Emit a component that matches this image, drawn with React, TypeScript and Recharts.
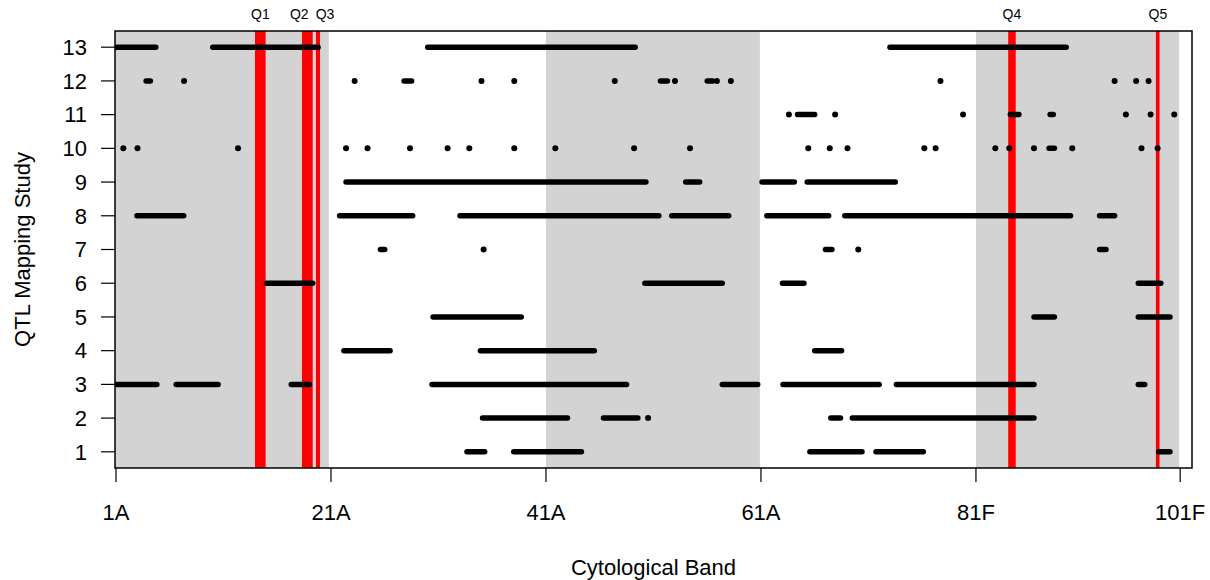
import React from "react";
import {
  ComposedChart,
  Line,
  Scatter,
  XAxis,
  YAxis,
  ReferenceArea,
  ReferenceLine,
} from "recharts";

// Intervals (start, end) along the cytological map for each QTL mapping study.
// A single-band hit has start === end and is drawn as a dot.
const study13 = [[1, 4.7], [10, 19.8], [30, 49.3], [73, 89.4]];
const study12 = [
  [3.8, 4.2], [7.33, 7.33], [23.2, 23.2], [27.8, 28.5], [35.0, 35.0],
  [38.05, 38.05], [47.4, 47.4], [51.65, 52.3], [53.0, 53.0], [56.0, 56.5],
  [56.9, 56.9], [58.2, 58.2], [77.7, 77.7], [93.9, 93.9], [95.9, 95.9],
  [97.06, 97.06],
];
const study11 = [
  [63.6, 63.6], [64.4, 66.0], [67.9, 67.9], [79.8, 79.8], [84.2, 85.0],
  [87.9, 88.2], [94.95, 94.95], [97.25, 97.25], [99.45, 99.45],
];
const study10 = [
  [1.68, 1.68], [3.0, 3.0], [12.35, 12.35], [22.4, 22.4], [24.4, 24.4],
  [28.35, 28.35], [31.85, 31.85], [33.87, 33.87], [38.05, 38.05],
  [41.87, 41.87], [49.2, 49.2], [54.4, 54.4], [65.4, 65.4], [67.4, 67.4],
  [69.05, 69.05], [76.2, 76.2], [77.25, 77.25], [82.8, 82.8], [84.1, 84.1],
  [86.4, 86.4], [87.8, 88.3], [89.96, 89.96], [96.4, 96.4], [97.9, 97.9],
];
const study9 = [[22.4, 50.3], [54.0, 55.3], [61.1, 64.1], [65.3, 73.5]];
const study8 = [
  [2.95, 7.3], [21.8, 28.6], [33.0, 51.5], [52.7, 58.0], [61.55, 67.3],
  [68.8, 89.8], [92.5, 93.9],
];
const study7 = [[25.6, 26.0], [35.2, 35.2], [67.0, 67.6], [70.05, 70.05], [92.5, 93.1]];
const study6 = [[15.0, 19.3], [50.2, 57.4], [63.0, 65.0], [96.1, 98.2]];
const study5 = [[30.5, 38.7], [86.4, 88.3], [96.1, 99.05]];
const study4 = [[22.2, 26.5], [34.9, 45.5], [66.0, 68.5]];
const study3 = [
  [1, 4.8], [6.6, 10.5], [17.3, 19.0], [30.4, 48.5], [57.4, 60.7],
  [63.05, 72.0], [73.6, 86.4], [96.1, 96.7],
];
const study2 = [[35.1, 43.0], [46.35, 49.55], [50.5, 50.5], [67.5, 68.4], [69.5, 86.4]];
const study1 = [[33.65, 35.3], [38.0, 44.3], [65.55, 70.4], [71.7, 76.1], [98.0, 99.05]];

const studies = [
  study1, study2, study3, study4, study5, study6, study7,
  study8, study9, study10, study11, study12, study13,
];

// Alternating shaded blocks of 20 bands
const shadedBands = [[0.907, 20.8], [41, 60.9], [81, 99.9]];

// QTL positions: band ranges and where their labels sit
const qtlNames = ["Q1", "Q2", "Q3", "Q4", "Q5"];
const qtlRanges = [[13.93, 14.92], [18.3, 19.3], [19.6, 19.98], [84.0, 84.7], [97.74, 98.08]];
const qtlLabelAt = [14.43, 18.05, 20.45, 84.35, 97.93];

const bandTicks = [1, 21, 41, 61, 81, 100];
const bandLabels = ["1A", "21A", "41A", "61A", "81F", "101F"];
const studyTicks = [1, 2, 3, 4, 5, 6, 7, 8, 9, 10, 11, 12, 13];

const X_MIN = 0.907;
const X_MAX = 101.1;
const Y_MIN = 0.52;
const Y_MAX = 13.48;

const FONT = "'Liberation Sans', Arial, Helvetica, sans-serif";
const AXIS_FONT = 22;

type Pt = { x: number; y: number | null };

function segmentData(rows: number[][], y: number): Pt[] {
  const out: Pt[] = [];
  rows
    .filter(([a, b]) => b > a)
    .forEach(([a, b]) => {
      out.push({ x: a, y }, { x: b, y }, { x: b, y: null });
    });
  return out;
}

function dotData(rows: number[][], y: number): Pt[] {
  return rows.filter(([a, b]) => a === b).map(([a]) => ({ x: a, y }));
}

const allDots = studies.flatMap((rows, i) => dotData(rows, i + 1));

const Dot = (p: any) => <circle cx={p.cx} cy={p.cy} r={3} fill="#000" />;

export default function App() {
  return (
    // pinned to the page corner, clear of the default body margin
    <div style={{ fontFamily: FONT, position: "absolute", top: 0, left: 0 }}>
      <ComposedChart
        width={1210}
        height={580}
        margin={{ top: 31, right: 18, left: 0, bottom: 52 }}
        style={{ fontFamily: FONT }}
      >
        <XAxis
          type="number"
          dataKey="x"
          domain={[X_MIN, X_MAX]}
          allowDataOverflow
          ticks={bandTicks}
          interval={0}
          tickFormatter={(v: number) => bandLabels[bandTicks.indexOf(v)] ?? ""}
          tickSize={14}
          tickMargin={22}
          height={60}
          axisLine={false}
          tickLine={{ stroke: "#000", strokeWidth: 1.2 }}
          tick={{ fill: "#000", fontSize: AXIS_FONT }}
          label={(props: any) => {
            const vb = props.viewBox;
            return (
              <text
                x={vb.x + vb.width / 2}
                y={vb.y + 99}
                textAnchor="middle"
                dominantBaseline="central"
                fontSize={AXIS_FONT}
                fill="#000"
              >
                Cytological Band
              </text>
            );
          }}
        />
        <YAxis
          type="number"
          domain={[Y_MIN, Y_MAX]}
          allowDataOverflow
          ticks={studyTicks}
          interval={0}
          width={115}
          tickSize={14}
          tickMargin={14}
          axisLine={false}
          tickLine={{ stroke: "#000", strokeWidth: 1.2 }}
          tick={{ fill: "#000", fontSize: AXIS_FONT }}
          label={(props: any) => {
            const vb = props.viewBox;
            const cx = vb.x + 22;
            const cy = vb.y + vb.height / 2;
            return (
              <text
                x={cx}
                y={cy}
                transform={`rotate(-90 ${cx} ${cy})`}
                textAnchor="middle"
                dominantBaseline="central"
                fontSize={AXIS_FONT}
                fill="#000"
              >
                QTL Mapping Study
              </text>
            );
          }}
        />

        {shadedBands.map(([a, b], i) => (
          <ReferenceArea
            key={`shade-${i}`}
            x1={a}
            x2={b}
            y1={Y_MIN}
            y2={Y_MAX}
            fill="#d3d3d3"
            fillOpacity={1}
            stroke="none"
            ifOverflow="hidden"
          />
        ))}
        {qtlRanges.map(([a, b], i) => (
          <ReferenceArea
            key={`qtl-${i}`}
            x1={a}
            x2={b}
            y1={Y_MIN}
            y2={Y_MAX}
            fill="#ff0000"
            fillOpacity={1}
            stroke="none"
            ifOverflow="hidden"
          />
        ))}
        {qtlNames.map((name, i) => (
          <ReferenceLine
            key={`qlab-${i}`}
            x={qtlLabelAt[i]}
            stroke="none"
            label={{ value: name, position: "top", offset: 12, fontSize: 14, fill: "#000" }}
          />
        ))}

        {studies.map((rows, i) => (
          <Line
            key={`study-${i + 1}`}
            data={segmentData(rows, i + 1)}
            dataKey="y"
            type="linear"
            stroke="#000"
            strokeWidth={5.5}
            strokeLinecap="round"
            dot={false}
            activeDot={false}
            connectNulls={false}
            isAnimationActive={false}
          />
        ))}
        <Scatter data={allDots} dataKey="y" shape={Dot} isAnimationActive={false} />

        {/* plot frame */}
        <ReferenceArea
          x1={X_MIN}
          x2={X_MAX}
          y1={Y_MIN}
          y2={Y_MAX}
          fill="none"
          stroke="#000"
          strokeWidth={1.5}
        />
      </ComposedChart>
    </div>
  );
}
